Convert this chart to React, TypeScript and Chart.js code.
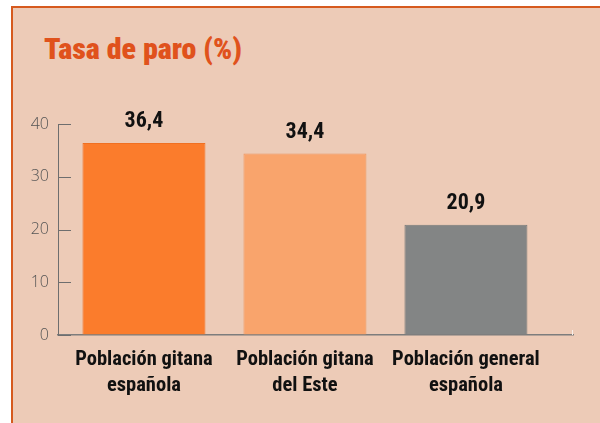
import React, { useEffect, useRef } from "react";
import { Chart, registerables } from "chart.js";

Chart.register(...registerables);

const title = "Tasa de paro (%)";
const categories: string[][] = [
  ["Población gitana", "española"],
  ["Población gitana", "del Este"],
  ["Población general", "española"],
];
const values: number[] = [36.4, 34.4, 20.9];
const barColors: string[] = ["#fb7c2c", "#f9a46c", "#838585"];
const barBorders: string[] = ["#f07022", "#f0955c", "#777979"];
const yTicks: number[] = [0, 10, 20, 30, 40];

const COND = "Roboto, sans-serif";

export default function App() {
  const ref = useRef<HTMLCanvasElement | null>(null);

  useEffect(() => {
    if (!ref.current) return;

    const frameTicks = {
      id: "frameTicks",
      afterDraw(chart: any) {
        const ctx = chart.ctx;
        const y = chart.scales.y;
        const area = chart.chartArea;
        ctx.save();
        ctx.strokeStyle = "#6e6e6e";
        ctx.lineWidth = 1;
        yTicks.forEach((t) => {
          const py = Math.round(y.getPixelForValue(t)) + 0.5;
          ctx.beginPath();
          ctx.moveTo(area.left, py);
          ctx.lineTo(area.left + 13, py);
          ctx.stroke();
        });
        ctx.strokeStyle = "#f6eee8";
        ctx.beginPath();
        ctx.moveTo(area.right - 0.5, area.bottom);
        ctx.lineTo(area.right - 0.5, area.bottom - 5);
        ctx.stroke();
        ctx.restore();
      },
    };

    const valueLabels = {
      id: "valueLabels",
      afterDatasetsDraw(chart: any) {
        const ctx = chart.ctx;
        const meta = chart.getDatasetMeta(0);
        ctx.save();
        ctx.font = `condensed bold 22px ${COND}`;
        ctx.fillStyle = "#111111";
        ctx.textAlign = "center";
        ctx.textBaseline = "alphabetic";
        meta.data.forEach((el: any, i: number) => {
          const txt = values[i].toFixed(1).replace(".", ",");
          ctx.fillText(txt, el.x, el.y - 16);
        });
        ctx.restore();
      },
    };

    const chart = new Chart(ref.current, {
      type: "bar",
      data: {
        datasets: [
          {
            data: values.map((v, i) => ({ x: i, y: v })),
            backgroundColor: barColors,
            borderColor: barBorders,
            borderWidth: 1,
            categoryPercentage: 1,
            barPercentage: 0.764,
          },
        ],
      },
      options: {
        responsive: false,
        animation: false,
        layout: { padding: { left: 0, top: 124, right: 27, bottom: 0 } },
        plugins: {
          legend: { display: false },
          tooltip: { enabled: false },
          title: { display: false },
        },
        scales: {
          x: {
            type: "linear",
            offset: false,
            min: -0.534,
            max: 2.665,
            afterFit(scale: any) {
              scale.height = 88;
            },
            ticks: {
              stepSize: 1,
              includeBounds: false,
              autoSkip: false,
              maxRotation: 0,
              minRotation: 0,
              padding: 12,
              color: "#111111",
              font: { family: COND, size: 20.5, weight: "bold condensed", lineHeight: 1.27 },
              callback: (v: any) => {
                const idx = Math.round(Number(v));
                return categories[idx] && Math.abs(Number(v) - idx) < 1e-6 ? categories[idx] : "";
              },
            },
            grid: { display: true, offset: false, drawOnChartArea: false, drawTicks: false },
            border: { display: true, color: "#7d7d7d", width: 1.5 },
          },
          y: {
            min: 0,
            max: 40,
            afterFit(scale: any) {
              scale.width = 58;
            },
            ticks: {
              stepSize: 10,
              padding: 9,
              color: "#555555",
              font: { family: "'Open Sans', sans-serif", size: 16, weight: "300" },
            },
            grid: { display: true, drawOnChartArea: false, drawTicks: false },
            border: { display: true, color: "#6e6e6e", width: 1 },
          },
        },
      },
      plugins: [frameTicks, valueLabels],
    } as any);

    return () => chart.destroy();
  }, []);

  return (
    <div style={{ position: "absolute", left: 0, top: 0, width: 600, height: 423, background: "#ffffff", overflow: "hidden" }}>
      <div
        style={{
          position: "absolute",
          left: 11,
          top: 6,
          width: 589,
          height: 417,
          boxSizing: "border-box",
          borderTop: "2px solid #d65a1e",
          borderLeft: "2px solid #d65a1e",
          background: "#edcbb7",
        }}
      />
      <div
        style={{
          position: "absolute",
          left: 44,
          top: 31,
          fontFamily: COND,
          fontStretch: "condensed",
          fontWeight: 900,
          fontSize: 30,
          lineHeight: "36px",
          color: "#e0521c",
          whiteSpace: "nowrap",
        }}
      >
        {title}
      </div>
      <canvas ref={ref} width={600} height={423} style={{ position: "absolute", left: 0, top: 0 }} />
    </div>
  );
}
